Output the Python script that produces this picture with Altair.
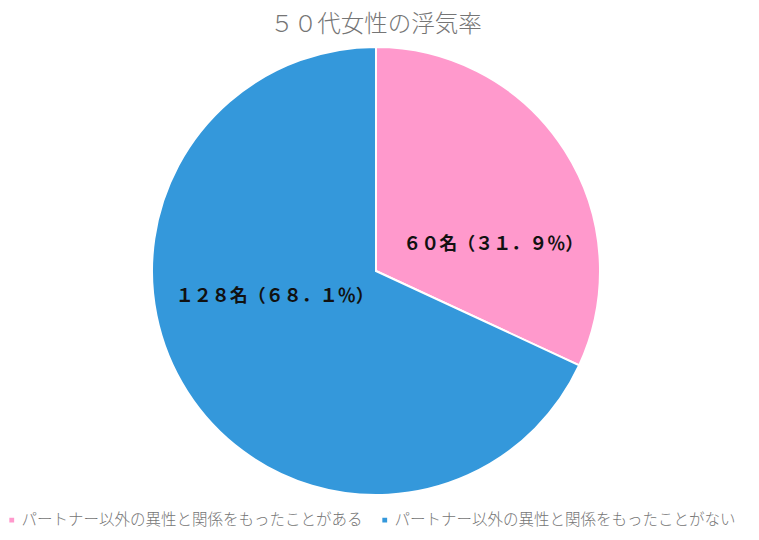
import altair as alt
import pandas as pd

categories = ["パートナー以外の異性と関係をもったことがある", "パートナー以外の異性と関係をもったことがない"]
counts = [60, 128]
labels = ["６０名（３１．９％）", "１２８名（６８．１％）"]
colors = ["#FF99CC", "#3498DB"]

df = pd.DataFrame({"category": categories, "count": counts, "label": labels, "order": [0, 1]})

FONT = "Noto Sans CJK JP"

base = alt.Chart(df).encode(
    theta=alt.Theta("count:Q", stack=True),
    order=alt.Order("order:Q"),
)

pie = base.mark_arc(radius=224, stroke="white", strokeWidth=2).encode(
    color=alt.Color(
        "category:N",
        scale=alt.Scale(domain=categories, range=colors),
        sort=categories,
        legend=alt.Legend(
            title=None,
            orient="none",
            direction="horizontal",
            legendX=-4,
            legendY=464,
            padding=0,
            symbolType="square",
            symbolSize=40,
            labelFont=FONT,
            labelFontSize=15.5,
            labelFontWeight=300,
            labelColor="#757575",
            labelLimit=500,
            labelOffset=2,
            columnPadding=14,
            symbolOffset=0,
        ),
    )
)

t1 = base.transform_calculate(show="datum.order == 0 ? datum.label : ''").mark_text(
    radius=120, dx=16, dy=39, font=FONT, fontSize=18, fontWeight="bold", color="#111111"
).encode(text="show:N")

t2 = base.transform_calculate(show="datum.order == 1 ? datum.label : ''").mark_text(
    radius=120, dx=0, dy=-39, font=FONT, fontSize=18, fontWeight="bold", color="#111111"
).encode(text="show:N")

chart = alt.layer(pie, t1, t2).properties(
    width=736,
    height=446,
    autosize=alt.AutoSizeParams(type="none"),
    padding={"left": 0, "top": 40, "right": 7, "bottom": 40},
    title=alt.TitleParams(
        "５０代女性の浮気率", font=FONT, fontSize=23.5, fontWeight=300,
        color="#757575", anchor="middle", offset=7,
    ),
).configure_view(stroke=None)

chart.save("out.html", embed_options={"renderer": "svg", "actions": False})
